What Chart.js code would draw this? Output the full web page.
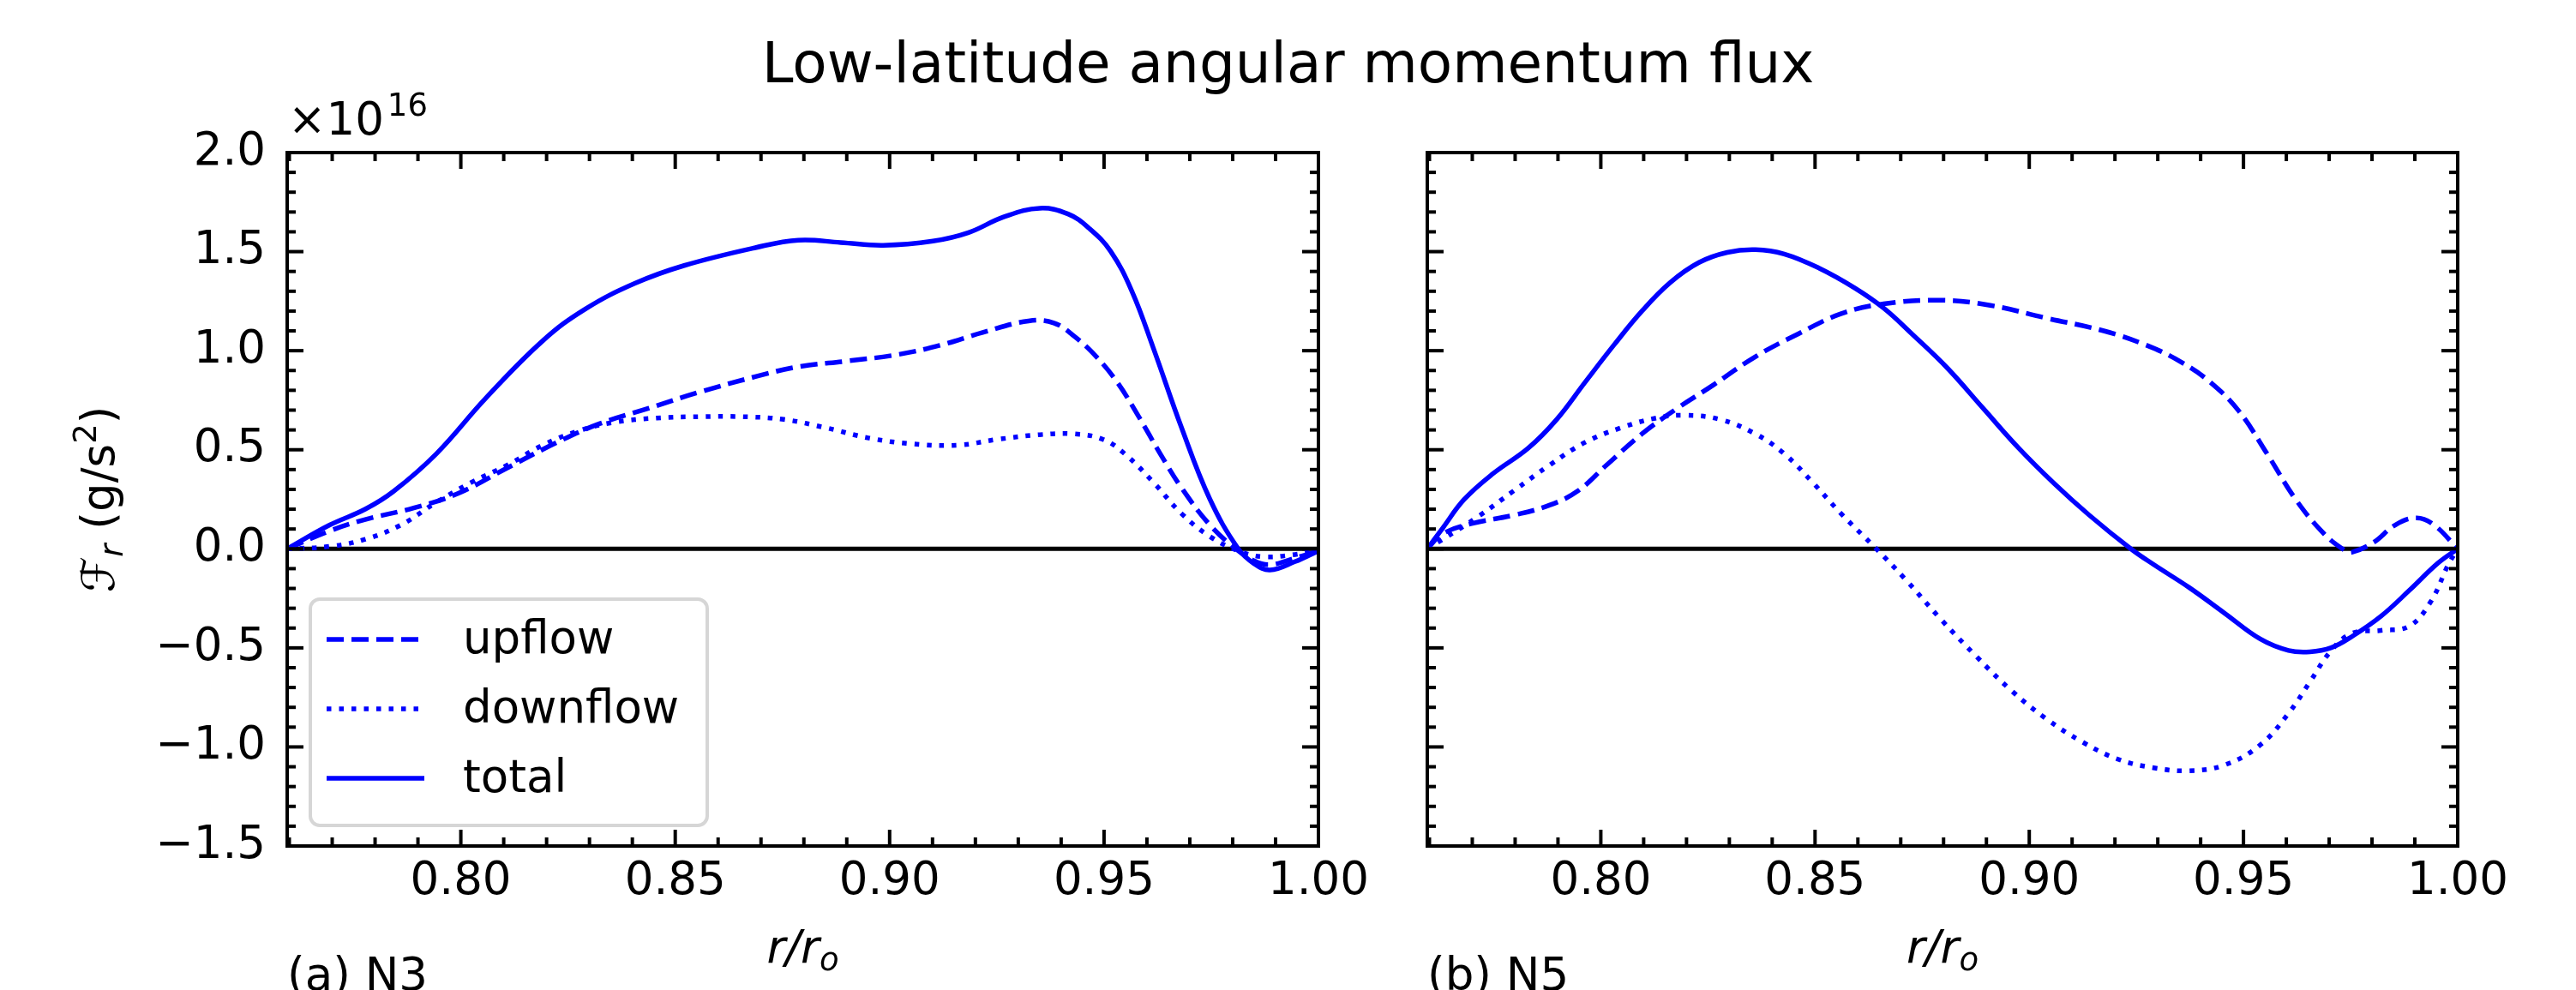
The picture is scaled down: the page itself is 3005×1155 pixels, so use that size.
<!DOCTYPE html>
<html>
<head>
<meta charset="utf-8">
<title>Low-latitude angular momentum flux</title>
<script src="https://cdn.jsdelivr.net/npm/chart.js@4.4.1/dist/chart.umd.min.js"></script>
<style>
  html, body { margin: 0; padding: 0; background: #fff; }
  #fig { position: relative; width: 3005px; height: 1155px; overflow: hidden; background: #fff; }
  #fig canvas { position: absolute; top: 0; }
  #title {
    position: absolute; left: 0; top: 41px; width: 3005px; text-align: center;
    font: 66px/66px 'DejaVu Sans', sans-serif; color: #000;
  }
</style>
</head>
<body>
<div id="fig">
  <div id="title">Low-latitude angular momentum flux</div>
  <canvas id="panelA" width="1650" height="1155" style="left:0"></canvas>
  <canvas id="panelB" width="1405" height="1155" style="left:1600px"></canvas>
</div>
<script>
// 축 범위와 눈금
const rMin = 0.7595, rMax = 1.0;
const fMin = -1.5, fMax = 2.0;
const rTicks = [0.80, 0.85, 0.90, 0.95, 1.00];
const fTicks = [-1.5, -1.0, -0.5, 0.0, 0.5, 1.0, 1.5, 2.0];

// (a) N3 — 값 단위 1e16 g/s^2
const n3UpR = [0.7595, 0.7694, 0.7777, 0.7890, 0.7992, 0.8108, 0.8224, 0.8323, 0.8439, 0.8555, 0.8687, 0.8787, 0.8902, 0.9018, 0.9117, 0.9217, 0.9324, 0.9383, 0.9432, 0.9482, 0.9531, 0.9581, 0.9631, 0.9681, 0.9747, 0.9805, 0.9850, 0.9887, 0.9940, 1.0];
const n3UpF = [0, 0.09, 0.148, 0.206, 0.278, 0.408, 0.537, 0.631, 0.71, 0.79, 0.869, 0.919, 0.948, 0.98, 1.027, 1.092, 1.15, 1.14, 1.07, 0.97, 0.84, 0.667, 0.48, 0.307, 0.12, 0.004, -0.06, -0.08, -0.05, -0.01];
const n3DownR = [0.7595, 0.7694, 0.7777, 0.7860, 0.7943, 0.8025, 0.8108, 0.8191, 0.8274, 0.8356, 0.8456, 0.8555, 0.8654, 0.8753, 0.8853, 0.8952, 0.9051, 0.9159, 0.9250, 0.9350, 0.9432, 0.9498, 0.9548, 0.9615, 0.9681, 0.9747, 0.9813, 0.9870, 0.9940, 1.0];
const n3DownF = [0, 0.012, 0.048, 0.12, 0.235, 0.336, 0.422, 0.523, 0.595, 0.638, 0.66, 0.667, 0.667, 0.653, 0.61, 0.559, 0.53, 0.523, 0.552, 0.576, 0.58, 0.552, 0.48, 0.336, 0.177, 0.062, -0.01, -0.04, -0.03, -0.005];
const n3TotalR = [0.7595, 0.7694, 0.7777, 0.7843, 0.7943, 0.8058, 0.8191, 0.8290, 0.8406, 0.8521, 0.8687, 0.8787, 0.8886, 0.8985, 0.9101, 0.9184, 0.9267, 0.9350, 0.9416, 0.9465, 0.9515, 0.9565, 0.9615, 0.9681, 0.9747, 0.9813, 0.9850, 0.9887, 0.9945, 1.0];
const n3TotalF = [0, 0.12, 0.20, 0.29, 0.48, 0.76, 1.05, 1.21, 1.34, 1.43, 1.52, 1.558, 1.546, 1.532, 1.553, 1.596, 1.676, 1.719, 1.69, 1.618, 1.503, 1.30, 1.013, 0.61, 0.25, 0.0, -0.075, -0.107, -0.065, -0.01];

// (b) N5
const n5UpR = [0.7595, 0.7631, 0.7698, 0.7797, 0.7880, 0.7947, 0.8013, 0.8096, 0.8179, 0.8262, 0.8361, 0.8461, 0.8560, 0.8660, 0.8793, 0.8909, 0.9041, 0.9174, 0.9274, 0.9356, 0.9423, 0.9489, 0.9555, 0.9622, 0.9688, 0.9738, 0.9754, 0.9804, 0.9854, 0.9904, 0.9945, 1.0];
const n5UpF = [0, 0.076, 0.127, 0.17, 0.22, 0.293, 0.422, 0.58, 0.71, 0.826, 0.97, 1.085, 1.186, 1.236, 1.255, 1.229, 1.164, 1.1, 1.027, 0.941, 0.84, 0.696, 0.48, 0.249, 0.076, -0.01, -0.017, 0.033, 0.12, 0.156, 0.12, 0];
const n5DownR = [0.7595, 0.7631, 0.7714, 0.7797, 0.7880, 0.7963, 0.8046, 0.8129, 0.8195, 0.8278, 0.8361, 0.8428, 0.8494, 0.8561, 0.8643, 0.8710, 0.8793, 0.8876, 0.8958, 0.9041, 0.9124, 0.9207, 0.9290, 0.9373, 0.9456, 0.9539, 0.9605, 0.9655, 0.9705, 0.9754, 0.9821, 0.9887, 0.9937, 0.9978, 1.0];
const n5DownF = [0, 0.048, 0.163, 0.293, 0.422, 0.537, 0.61, 0.66, 0.674, 0.653, 0.58, 0.48, 0.336, 0.177, 0, -0.152, -0.354, -0.542, -0.715, -0.86, -0.975, -1.062, -1.105, -1.12, -1.091, -0.99, -0.831, -0.672, -0.513, -0.426, -0.412, -0.39, -0.267, -0.08, 0];
const n5TotalR = [0.7595, 0.7631, 0.7681, 0.7748, 0.7831, 0.7897, 0.7963, 0.8030, 0.8096, 0.8162, 0.8229, 0.8295, 0.8361, 0.8428, 0.8510, 0.8593, 0.8660, 0.8726, 0.8809, 0.8892, 0.8975, 0.9058, 0.9140, 0.9237, 0.9290, 0.9373, 0.9456, 0.9539, 0.9605, 0.9655, 0.9705, 0.9755, 0.9821, 0.9887, 0.9954, 1.0];
const n5TotalF = [0, 0.105, 0.249, 0.379, 0.509, 0.653, 0.84, 1.027, 1.2, 1.344, 1.445, 1.496, 1.51, 1.488, 1.416, 1.316, 1.215, 1.085, 0.912, 0.71, 0.509, 0.33, 0.17, 0, -0.079, -0.195, -0.325, -0.455, -0.513, -0.52, -0.499, -0.44, -0.34, -0.21, -0.072, 0];

const seriesLabels = ['upflow', 'downflow', 'total'];

const BLUE = '#0000ff';
const LW = 5.5;
const FONT = "'DejaVu Sans', sans-serif";
const PLOT_TOP = 178, PLOT_BOTTOM = 987, FIG_H = 1155;

Chart.defaults.font.family = FONT;
Chart.defaults.color = '#000';

function pts(rs, fs) { return rs.map((r, i) => ({ x: r, y: fs[i] })); }

function buildDatasets(up, down, total) {
  return [
    { label: seriesLabels[0], data: up, borderColor: BLUE, borderWidth: LW, borderDash: [20, 9] },
    { label: seriesLabels[1], data: down, borderColor: BLUE, borderWidth: LW, borderDash: [5.5, 9] },
    { label: seriesLabels[2], data: total, borderColor: BLUE, borderWidth: LW },
    { label: 'zero', data: pts([rMin, rMax], [0, 0]), borderColor: '#000', borderWidth: 5, tension: 0 }
  ];
}

// 축 테두리, 안쪽 눈금, 라벨, 범례
const frame = {
  id: 'frame',
  afterDatasetsDraw(chart, args, o) {
    const { ctx, chartArea: a, scales: { x, y } } = chart;
    ctx.save();
    ctx.strokeStyle = '#000';
    ctx.lineWidth = 4;
    ctx.setLineDash([]);
    const seg = (x1, y1, x2, y2) => { ctx.beginPath(); ctx.moveTo(x1, y1); ctx.lineTo(x2, y2); ctx.stroke(); };
    for (let v = Math.ceil(rMin * 100 - 1e-6); v <= Math.round(rMax * 100); v++) {
      const px = x.getPixelForValue(v / 100);
      const len = v % 5 === 0 ? 19 : 10;
      seg(px, a.bottom, px, a.bottom - len);
      seg(px, a.top, px, a.top + len);
    }
    for (let v = Math.round(fMin * 10); v <= Math.round(fMax * 10); v++) {
      const py = y.getPixelForValue(v / 10);
      const len = v % 5 === 0 ? 19 : 10;
      seg(a.left, py, a.left + len, py);
      seg(a.right, py, a.right - len, py);
    }
    ctx.strokeRect(a.left, a.top, a.right - a.left, a.bottom - a.top);
    ctx.restore();
  },
  afterDraw(chart, args, o) {
    const { ctx, chartArea: a } = chart;
    ctx.save();
    ctx.fillStyle = '#000';
    ctx.textBaseline = 'alphabetic';

    // 패널 라벨
    ctx.font = `53px ${FONT}`;
    ctx.textAlign = 'left';
    ctx.fillText(o.panel, a.left, FIG_H);

    // x축 라벨 r/r_o
    const big = `italic 53px ${FONT}`, small = `italic 37px ${FONT}`;
    ctx.font = big; const w1 = ctx.measureText('r/r').width;
    ctx.font = small; const w2 = ctx.measureText('o').width;
    const cx = (a.left + a.right) / 2, x0 = cx - (w1 + w2) / 2;
    ctx.font = big; ctx.fillText('r/r', x0, 1123);
    ctx.font = small; ctx.fillText('o', x0 + w1, 1132);

    if (o.yTitle) {
      // y축 라벨
      const parts = [
        { t: '\u2131', f: `53px ${FONT}`, dy: 0 },
        { t: 'r', f: `italic 37px ${FONT}`, dy: 10 },
        { t: ' (g/s', f: `53px ${FONT}`, dy: 0 },
        { t: '2', f: `37px ${FONT}`, dy: -21 },
        { t: ')', f: `53px ${FONT}`, dy: 0 }
      ];
      let total = 0;
      parts.forEach(p => { ctx.font = p.f; p.w = ctx.measureText(p.t).width; total += p.w; });
      ctx.save();
      ctx.translate(133, (a.top + a.bottom) / 2);
      ctx.rotate(-Math.PI / 2);
      let px = -total / 2;
      parts.forEach(p => { ctx.font = p.f; ctx.fillText(p.t, px, p.dy); px += p.w; });
      ctx.restore();

      // 오프셋 텍스트 ×10^16
      ctx.font = `53px ${FONT}`;
      ctx.fillText('\u00d710', a.left + 1, 157);
      const wx = ctx.measureText('\u00d710').width;
      ctx.font = `37px ${FONT}`;
      ctx.fillText('16', a.left + 1 + wx + 4, 135);
    }

    if (o.legend) {
      const bx = a.left + 27, by = 699, bw = 463, bh = 264;
      ctx.beginPath();
      ctx.roundRect(bx, by, bw, bh, 11);
      ctx.fillStyle = 'rgba(255,255,255,0.8)';
      ctx.fill();
      ctx.lineWidth = 4;
      ctx.strokeStyle = '#d6d6d6';
      ctx.stroke();
      const rows = [746, 827, 908];
      chart.data.datasets.slice(0, 3).forEach((ds, i) => {
        ctx.setLineDash(ds.borderDash || []);
        ctx.lineWidth = ds.borderWidth;
        ctx.strokeStyle = ds.borderColor;
        ctx.beginPath();
        ctx.moveTo(bx + 19, rows[i]);
        ctx.lineTo(bx + 133, rows[i]);
        ctx.stroke();
        ctx.setLineDash([]);
        ctx.fillStyle = '#000';
        ctx.font = `53px ${FONT}`;
        ctx.textBaseline = 'middle';
        ctx.fillText(ds.label, bx + 178, rows[i] + 2);
      });
    }
    ctx.restore();
  }
};

function fmtF(v) {
  return (v < 0 ? '\u2212' : '') + Math.abs(v).toFixed(1);
}

function makeChart(id, datasets, o) {
  return new Chart(document.getElementById(id), {
    type: 'line',
    data: { datasets },
    options: {
      responsive: false,
      animation: false,
      devicePixelRatio: 1,
      layout: { padding: { left: 0, top: PLOT_TOP, right: o.padRight, bottom: 0 } },
      elements: {
        point: { radius: 0 },
        line: { tension: 0.4, borderCapStyle: 'butt', fill: false }
      },
      plugins: {
        legend: { display: false },
        tooltip: { enabled: false },
        frame: o
      },
      scales: {
        x: {
          type: 'linear', min: rMin, max: rMax,
          grid: { display: false, drawTicks: false },
          border: { display: false },
          afterBuildTicks: s => { s.ticks = rTicks.map(v => ({ value: v })); },
          afterFit: s => { s.height = FIG_H - PLOT_BOTTOM; },
          ticks: { padding: 10, maxRotation: 0, autoSkip: false, font: { size: 53 }, color: '#000', callback: v => v.toFixed(2) }
        },
        y: {
          type: 'linear', min: fMin, max: fMax,
          grid: { display: false, drawTicks: false },
          border: { display: false },
          afterBuildTicks: s => { s.ticks = fTicks.map(v => ({ value: v })); },
          afterFit: s => { s.width = o.axisWidth; },
          ticks: { display: o.yLabels, padding: 25, autoSkip: false, font: { size: 53 }, color: '#000', callback: v => fmtF(v) }
        }
      }
    },
    plugins: [frame]
  });
}

makeChart('panelA',
  buildDatasets(pts(n3UpR, n3UpF), pts(n3DownR, n3DownF), pts(n3TotalR, n3TotalF)),
  { panel: '(a) N3', yTitle: true, legend: true, yLabels: true, axisWidth: 335, padRight: 112 });

makeChart('panelB',
  buildDatasets(pts(n5UpR, n5UpF), pts(n5DownR, n5DownF), pts(n5TotalR, n5TotalF)),
  { panel: '(b) N5', yTitle: false, legend: false, yLabels: false, axisWidth: 65, padRight: 138 });
</script>
</body>
</html>
